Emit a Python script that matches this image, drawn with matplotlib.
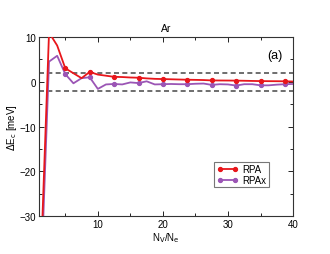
import matplotlib
matplotlib.use('Agg')
import matplotlib.pyplot as plt
from matplotlib.ticker import MultipleLocator

plt.rcParams['font.family'] = ['Liberation Sans', 'DejaVu Sans']

# N_V/N_e (N_e = 8 pour Ar)
nv_ne = [1.25, 2.5, 3.75, 5.0, 6.25, 7.5, 8.75, 10.0, 11.25, 12.5, 13.75, 15.0,
         16.25, 17.5, 18.75, 20.0, 21.25, 22.5, 23.75, 25.0, 26.25, 27.5, 28.75, 30.0,
         31.25, 32.5, 33.75, 35.0, 36.25, 37.5, 38.75, 40.0]

rpa = [-40.0, 11.0, 8.1, 3.0, 1.9, 0.8, 2.2, 1.6, 1.35, 1.1, 1.05, 0.95,
       0.9, 0.75, 0.65, 0.6, 0.55, 0.5, 0.45, 0.42, 0.38, 0.3, 0.28, 0.27,
       0.25, 0.22, 0.18, 0.15, 0.13, 0.12, 0.1, 0.05]

rpax = [-45.0, 4.5, 5.8, 1.7, -0.35, 0.8, 1.0, -1.6, -0.6, -0.5, -0.6, -0.15,
        -0.3, 0.1, -0.6, -0.55, -0.5, -0.55, -0.55, -0.45, -0.4, -0.7, -0.55, -0.6,
        -0.85, -0.55, -0.55, -0.8, -0.8, -0.65, -0.55, -0.5]

fig = plt.figure(figsize=(3.3, 2.55), dpi=100)
ax = fig.add_axes([0.119, 0.149, 0.769, 0.702])

ax.axhline(2, color='#555555', ls='--', lw=1.2, dashes=(3, 2))
ax.axhline(-2, color='#555555', ls='--', lw=1.2, dashes=(3, 2))

ax.plot(nv_ne, rpa, color='#e8161b', lw=1.3, marker='o', ms=2.8,
        markevery=slice(3, None, 3), label='RPA', zorder=3)
ax.plot(nv_ne, rpax, color='#9b55b5', lw=1.3, marker='o', ms=2.8,
        markevery=slice(3, None, 3), label='RPAx', zorder=2)

ax.set_xlim(1, 40)
ax.set_ylim(-30, 10)
ax.xaxis.set_major_locator(MultipleLocator(10))
ax.xaxis.set_minor_locator(MultipleLocator(5))
ax.yaxis.set_major_locator(MultipleLocator(10))
ax.yaxis.set_minor_locator(MultipleLocator(5))
ax.tick_params(which='both', direction='in', top=True, right=True, labelsize=7, pad=2)
ax.tick_params(which='major', length=3.5, width=0.6)
ax.tick_params(which='minor', length=2, width=0.6)
for s in ax.spines.values():
    s.set_linewidth(0.8)
    s.set_color('#333333')

ax.set_title('Ar', fontsize=7.5, pad=4)
ax.set_xlabel(r'N$_\mathrm{V}$/N$_\mathrm{e}$', fontsize=7, labelpad=1)
ax.set_ylabel(r'$\Delta$E$_\mathrm{c}$ [meV]', fontsize=7, labelpad=1)
ax.text(0.96, 0.9, '(a)', transform=ax.transAxes, ha='right', va='center', fontsize=9)

leg = ax.legend(loc='lower left', bbox_to_anchor=(0.69, 0.16), fontsize=7,
                frameon=True, fancybox=False, handlelength=2.2, handletextpad=0.4,
                borderpad=0.25, labelspacing=0.1, borderaxespad=0,
                markerscale=1.0, numpoints=2)
leg.get_frame().set_edgecolor('#555555')
leg.get_frame().set_linewidth(0.8)

fig.savefig('out.png', dpi=100)
